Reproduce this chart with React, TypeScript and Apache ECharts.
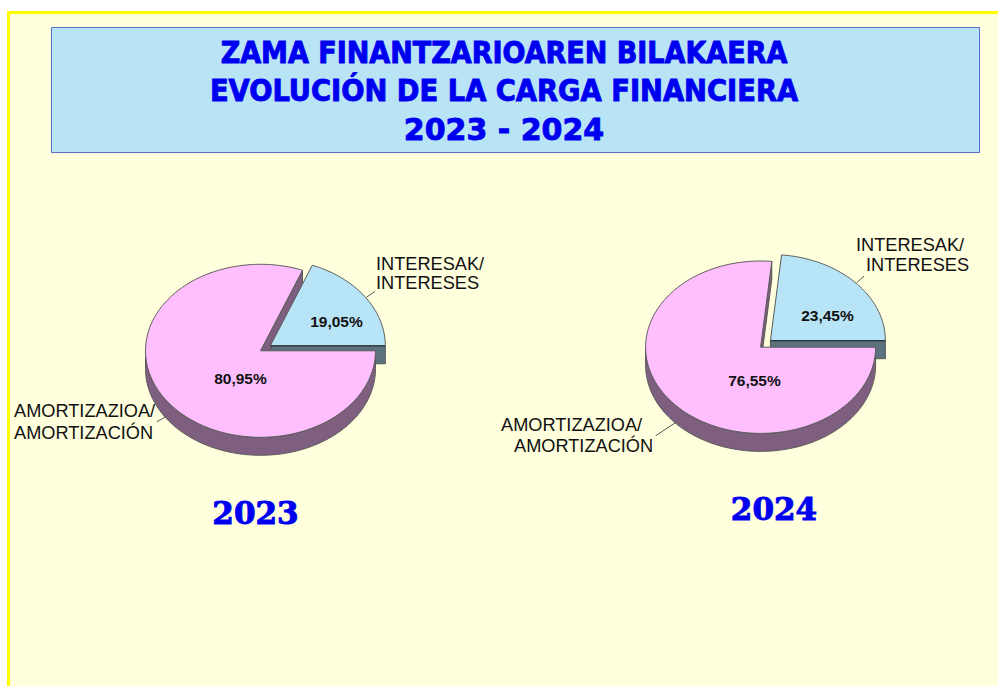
import React, { useEffect, useRef } from "react";
import * as echarts from "echarts";

const titleLines = ["ZAMA FINANTZARIOAREN BILAKAERA", "EVOLUCIÓN DE LA CARGA FINANCIERA", "2023 - 2024"];
const years = ["2023", "2024"];
const sliceNames = ["INTERESAK/ INTERESES", "AMORTIZAZIOA/ AMORTIZACIÓN"];
const values2023 = [19.05, 80.95];
const values2024 = [23.45, 76.55];

const BLUE = "#B8E4F8";
const BLUE_DARK = "#5C727E";
const PINK = "#FFBFFF";
const PINK_DARK = "#7F5F7F";
const EDGE = "#5a5a5a";
const TITLE = "#0000F0";
const TEXT_FONT = '"Liberation Sans", Arial, sans-serif';

const titleFonts = [
  'bold 30px "DejaVu Sans Condensed", "DejaVu Sans", sans-serif',
  'bold 30.4px "DejaVu Sans Condensed", "DejaVu Sans", sans-serif',
  'bold 30px "DejaVu Sans", sans-serif',
];

type Pt = [number, number];

const pieLayouts = [
  {
    cx: 260.5, cy: 350.8, rx: 115, ry: 86.5, depth: 18, dx: 9.8, dy: -5,
    labelPos: [{ x: 336.5, y: 321.5 }, { x: 240.5, y: 378 }],
    leaders: [[[366.7, 297], [375, 291.5]], [[165, 417.3], [156.7, 421.7]]],
    names: [
      [{ x: 376, y: 263.5 }, { x: 376, y: 282.5 }],
      [{ x: 14, y: 410.5 }, { x: 14, y: 433 }],
    ],
  },
  {
    cx: 760.6, cy: 347.2, rx: 115, ry: 86.2, depth: 18, dx: 9.8, dy: -6.5,
    labelPos: [{ x: 827.5, y: 315 }, { x: 754.5, y: 380 }],
    leaders: [[[856.7, 282.7], [864, 276]], [[675, 423], [655.7, 435.7]]],
    names: [
      [{ x: 856, y: 245 }, { x: 866, y: 264.5 }],
      [{ x: 501, y: 425 }, { x: 514, y: 446 }],
    ],
  },
];

const yearPos = [{ x: 255.5, y: 513 }, { x: 774, y: 509 }];

function arc(cx: number, cy: number, rx: number, ry: number, from: number, to: number): Pt[] {
  const n = Math.max(2, Math.ceil(Math.abs(to - from)));
  const pts: Pt[] = [];
  for (let i = 0; i <= n; i++) {
    const t = ((from + ((to - from) * i) / n) * Math.PI) / 180;
    pts.push([cx + rx * Math.cos(t), cy - ry * Math.sin(t)]);
  }
  return pts;
}

function pieSeries(idx: number, values: number[]) {
  const L = pieLayouts[idx];
  const total = values[0] + values[1];
  const split = (values[0] / total) * 360;
  return {
    type: "custom",
    name: years[idx],
    coordinateSystem: "none",
    silent: true,
    data: values.map((v, i) => ({ name: sliceNames[i], value: [v] })),
    renderItem: (params: any, api: any) => {
      const i = params.dataIndex;
      const v = api.value(0) as number;
      const pct = v.toFixed(2).replace(".", ",") + "%";
      const children: any[] = [];
      const poly = (points: Pt[], fill: string, z2: number, stroke = EDGE) => ({
        type: "polygon",
        z2,
        shape: { points },
        style: { fill, stroke, lineWidth: 1 },
      });
      const tx = (text: string, x: number, y: number, font: string, z2: number, align = "left") => ({
        type: "text",
        z2,
        style: { text, x, y, font, fill: "#111", textAlign: align, textVerticalAlign: "middle" },
      });
      if (i === 0) {
        const ax = L.cx + L.dx;
        const ay = L.cy + L.dy;
        const right = ax + L.rx;
        children.push(
          poly([[ax, ay], [right, ay], [right, ay + L.depth], [ax, ay + L.depth]], BLUE_DARK, 1),
        );
        children.push(poly([[ax, ay] as Pt].concat(arc(ax, ay, L.rx, L.ry, 0, split)), BLUE, 5));
        children.push({
          type: "line",
          z2: 6,
          shape: { x1: ax, y1: ay, x2: right, y2: ay },
          style: { stroke: "#1c2c34", lineWidth: 1 },
        });
      } else {
        const { cx, cy, rx, ry, depth } = L;
        const top = arc(cx, cy, rx, ry, 180, 360);
        const bottom = arc(cx, cy + depth, rx, ry, 360, 180);
        children.push(poly(top.concat(bottom), PINK_DARK, 2));
        const rim = arc(cx, cy, rx, ry, split, split)[0];
        children.push(
          poly([[cx, cy], rim, [rim[0], rim[1] + depth], [cx, cy + depth]], PINK_DARK, 2),
        );
        children.push(poly([[cx, cy] as Pt].concat(arc(cx, cy, rx, ry, split, 360)), PINK, 3));
      }
      children.push(tx(pct, L.labelPos[i].x, L.labelPos[i].y, `bold 15.5px ${TEXT_FONT}`, 8, "center"));
      const lead = L.leaders[i];
      children.push({
        type: "line",
        z2: 4,
        shape: { x1: lead[0][0], y1: lead[0][1], x2: lead[1][0], y2: lead[1][1] },
        style: { stroke: "#555", lineWidth: 1 },
      });
      sliceNames[i].split(" ").forEach((line, k) => {
        children.push(tx(line, L.names[i][k].x, L.names[i][k].y, `18.2px ${TEXT_FONT}`, 8));
      });
      return { type: "group", children };
    },
  };
}

export default function App() {
  const ref = useRef<HTMLDivElement>(null);
  useEffect(() => {
    const chart = echarts.init(ref.current!, undefined, { renderer: "svg" });
    const W = 998;
    const H = 686;
    chart.setOption({
      animation: false,
      backgroundColor: "#ffffff",
      graphic: [
        { type: "rect", shape: { x: 7, y: 11, width: W - 7, height: H - 11 }, style: { fill: "#FFFF00" } },
        { type: "rect", shape: { x: 10, y: 14, width: W - 10, height: H - 14 }, style: { fill: "#FFFFDD" } },
        {
          type: "rect",
          shape: { x: 51.5, y: 27.5, width: 928, height: 125 },
          style: { fill: "#B8E4F6", stroke: "#5A6CC4", lineWidth: 1 },
        },
        ...titleLines.map((text, i) => ({
          type: "text",
          style: {
            text,
            x: 504,
            y: 52 + i * 38.8,
            font: titleFonts[i],
            fill: TITLE,
            stroke: TITLE,
            lineWidth: 0.9,
            textAlign: "center",
            textVerticalAlign: "middle",
          },
        })),
        ...years.map((text, i) => ({
          type: "text",
          style: {
            text,
            x: yearPos[i].x,
            y: yearPos[i].y,
            font: 'bold 31px "DejaVu Serif", serif',
            fill: TITLE,
            stroke: TITLE,
            lineWidth: 1,
            textAlign: "center",
            textVerticalAlign: "middle",
          },
        })),
      ],
      series: [pieSeries(0, values2023), pieSeries(1, values2024)],
    });
    return () => chart.dispose();
  }, []);
  return <div ref={ref} style={{ position: "fixed", left: 0, top: 0, width: 998, height: 686 }} />;
}
